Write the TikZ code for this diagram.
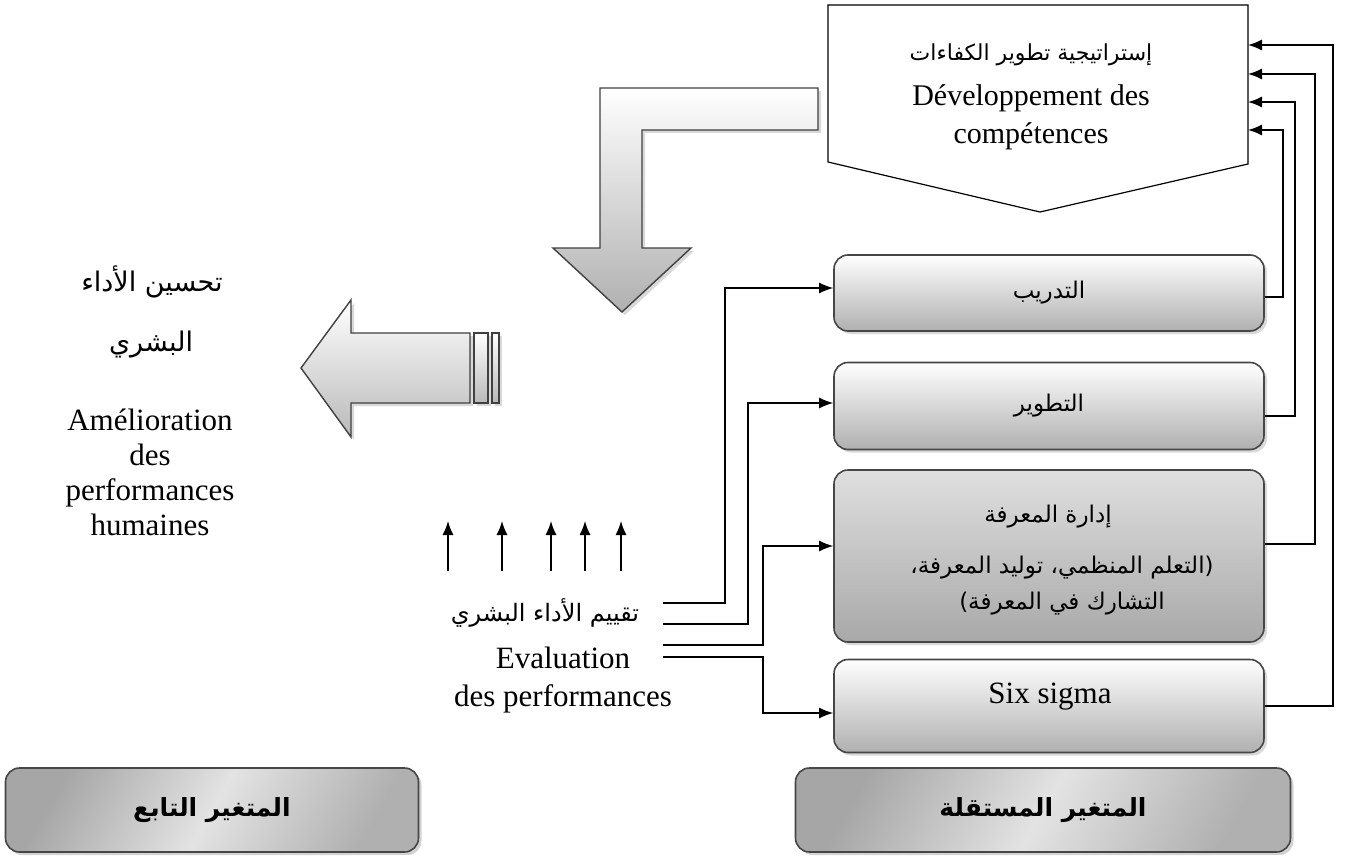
\documentclass[tikz,border=0pt]{standalone}
\usepackage{fontspec}
\setmainfont{Liberation Serif}
\newfontfamily\arabicfont[Script=Arabic]{DejaVu Sans}
\TeXXeTstate=1
\usetikzlibrary{shadows,arrows.meta,calc}
\newcommand{\artxt}[1]{{\arabicfont\beginR #1\endR}}
\tikzset{
  latin/.style={font=\fontsize{31}{38}\selectfont, align=center, inner sep=0pt},
  arab/.style={font=\fontsize{23}{30}\selectfont, align=center, inner sep=0pt},
  rbox/.style={draw=gray!55!black, line width=1.6pt, rounded corners=14pt,
    top color=white, bottom color=gray!62, minimum width=430pt,
    drop shadow={opacity=0.3, shadow xshift=3pt, shadow yshift=-3pt}},
  bbox/.style={draw=gray!55!black, line width=1.6pt, rounded corners=14pt,
    left color=gray!70, right color=gray!62, middle color=gray!22, shading angle=60,
    drop shadow={opacity=0.35, shadow xshift=3pt, shadow yshift=-3pt}},
  bigarrow/.style={draw=gray!50!black, line width=1.4pt, top color=white, bottom color=gray!62,
    drop shadow={opacity=0.3, shadow xshift=3pt, shadow yshift=-3pt}},
  conn/.style={line width=1.4pt, -{Latex[length=14pt,width=11pt]}}
}
\begin{document}
\begin{tikzpicture}[x=1pt,y=-1pt]
\useasboundingbox (0,0) rectangle (1352,856);
% top pentagon
\draw[line width=1.2pt, fill=white] (828,5) -- (1248,5) -- (1248,164) -- (1040,212) -- (828,162) -- cycle;
\node[arab, font=\fontsize{22}{28}\selectfont] (topar) at (1031,55) {\artxt{إستراتيجية تطوير الكفاءات}};
\node[latin, font=\fontsize{30}{38}\selectfont] (toplat) at (1031,117) {Développement des\\compétences};
\coordinate (a1) at (1248,45);
\coordinate (a2) at (1248,74);
\coordinate (a3) at (1248,102);
\coordinate (a4) at (1248,130);
% bent arrow
\path[bigarrow] (818,88) -- (600,88) -- (600,248) -- (553,248) -- (622,312) -- (691,248) -- (642,248) -- (642,130) -- (818,130) -- cycle;
% left arrow
\path[bigarrow, bottom color=gray!55] (301,368) -- (351,300) -- (351,333) -- (470,333) -- (470,403) -- (351,403) -- (351,437) -- cycle;
\path[bigarrow, bottom color=gray!55] (474,333) rectangle (488,403);
\path[bigarrow, bottom color=gray!55] (492,333) rectangle (499,403);
% left texts
\node[arab, font=\fontsize{27}{32}\selectfont] (imp1) at (152,282) {\artxt{تحسين الأداء}};
\node[arab, font=\fontsize{27}{32}\selectfont] (imp2) at (151,345) {\artxt{البشري}};
\node[latin, font=\fontsize{31}{35}\selectfont] (implat) at (150,472) {Amélioration\\des\\performances\\humaines};
% up arrows
\foreach \x [count=\i] in {448,502,551,585,621}{
  \coordinate (ub\i) at (\x,571);
  \coordinate (ut\i) at (\x,521);
  \draw[conn] (ub\i) -- (ut\i);
}
% evaluation text
\node[arab, font=\fontsize{24}{30}\selectfont] (evar) at (545,613) {\artxt{تقييم الأداء البشري}};
\node[latin] (evlat) at (563,680) {Evaluation\\des performances};
\coordinate (e1) at (663,603);
\coordinate (e2) at (663,624);
\coordinate (e3) at (663,645);
\coordinate (e4) at (663,657);
% right boxes
\node[rbox, minimum height=76pt] (tr) at (1049,293) {};
\node[arab] (trt) at (tr) {\artxt{التدريب}};
\node[rbox, minimum height=87pt] (dv) at (1049,406) {};
\node[arab] (dvt) at (dv) {\artxt{التطوير}};
\node[rbox, minimum height=172pt, top color=gray!25, bottom color=gray!68] (km) at (1049,556) {};
\node[arab] (kmt1) at (1048,517) {\artxt{إدارة المعرفة}};
\node[arab] (kmt2) at (1062,568) {\artxt{(التعلم المنظمي، توليد المعرفة،}};
\node[arab] (kmt3) at (1062,604) {\artxt{التشارك في المعرفة)}};
\node[rbox, minimum height=93pt] (ss) at (1049,706) {};
\node[latin] (sst) at (1050,697) {Six sigma};
% bottom boxes
\node[bbox, minimum width=495pt, minimum height=84pt] (indep) at (1043,810) {\fontsize{25}{30}\selectfont\arabicfont\bfseries\beginR المتغير المستقلة\endR};
\node[bbox, minimum width=413pt, minimum height=84pt] (dep) at (212,810) {\fontsize{25}{30}\selectfont\arabicfont\bfseries\beginR المتغير التابع\endR};
% connectors from boxes to top
\draw[conn] ($(tr.east)+(0,4)$) -- ++(18,0) |- (a4);
\draw[conn] ($(dv.east)+(0,10)$) -- ++(30,0) |- (a3);
\draw[conn] ($(km.east)+(0,-12)$) -- ++(50,0) |- (a2);
\draw[conn] (ss.east) -- ++(68,0) |- (a1);
% connectors from evaluation
\draw[conn] (e1) -- ++(62,0) |- ($(tr.west)+(0,-5)$);
\draw[conn] (e2) -- ++(85,0) |- ($(dv.west)+(0,-3)$);
\draw[conn] (e3) -- ++(100,0) |- ($(km.west)+(0,-10)$);
\draw[conn] (e4) -- ++(100,0) |- ($(ss.west)+(0,7)$);
\end{tikzpicture}
\end{document}
